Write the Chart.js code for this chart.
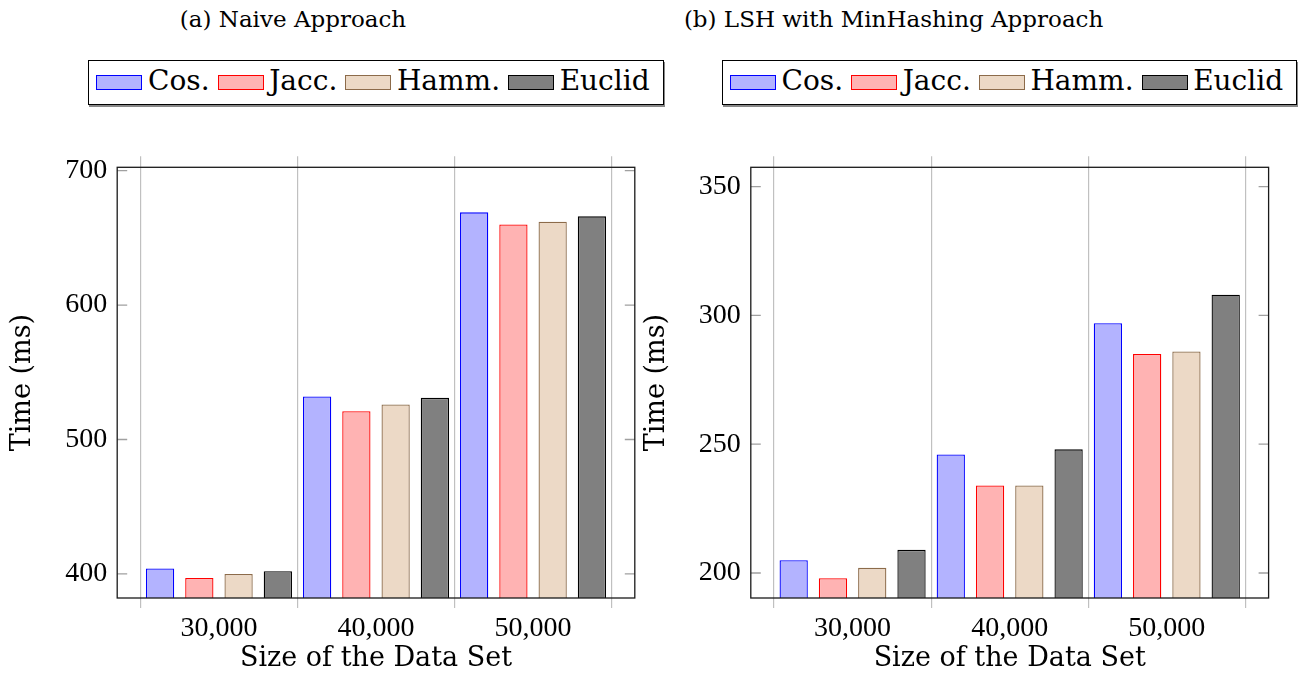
<!DOCTYPE html>
<html><head><meta charset="utf-8">
<script src="https://cdn.jsdelivr.net/npm/chart.js@4.4.0/dist/chart.umd.min.js"></script>
<style>
html,body{margin:0;padding:0;background:#fff;}
body{width:1305px;height:677px;position:relative;overflow:hidden;}
canvas{position:absolute;top:0;}
.title{position:absolute;top:8.2px;font-family:'DejaVu Serif';font-size:23px;line-height:23px;text-align:center;color:#000;white-space:nowrap;}
.legend{position:absolute;top:60px;height:45px;box-sizing:border-box;border:1.3px solid #000;box-shadow:1px 2px 0 #888;display:flex;align-items:center;padding-left:7.1px;font-family:'DejaVu Serif';font-size:28px;line-height:28px;color:#000;white-space:nowrap;}
.legend .sw{width:46px;height:15px;box-sizing:border-box;border:1.3px solid;margin-right:5.6px;flex:none;}
.legend .lbl{position:relative;top:-2px;margin-right:8px;}
</style></head>
<body>
<div class="title" style="left:0;width:586px;">(a) Naive Approach</div>
<div class="title" style="left:573.6px;width:640px;">(b) LSH with MinHashing Approach</div>
<div class="legend" id="leg1" style="left:88.3px;width:575.7px;"></div>
<div class="legend" id="leg2" style="left:721.8px;width:575.2px;"></div>
<canvas id="c1" width="650" height="677" style="left:0;width:650px;height:677px;"></canvas>
<canvas id="c2" width="675" height="677" style="left:630px;width:675px;height:677px;"></canvas>
<script>
// ---- data ----
const categories = ['30,000', '40,000', '50,000'];
const seriesNames = ['Cos.', 'Jacc.', 'Hamm.', 'Euclid'];

const naiveCos    = [404, 532, 669];
const naiveJacc   = [397, 521, 660];
const naiveHamm   = [400, 526, 662];
const naiveEuclid = [402, 531, 666];

const lshCos    = [205, 246, 297];
const lshJacc   = [198, 234, 285];
const lshHamm   = [202, 234, 286];
const lshEuclid = [209, 248, 308];

const naiveYTicks = [400, 500, 600, 700];
const lshYTicks   = [200, 250, 300, 350];
const naiveYRange = [382.1, 702.5];
const lshYRange   = [190.3, 357.5];

const xTitle = 'Size of the Data Set';
const yTitle = 'Time (ms)';

// ---- styles ----
const fills   = ['#b3b3ff', '#ffb3b3', '#ecd9c6', '#808080'];
const strokes = ['#0000ff', '#ff0000', '#8c6b4a', '#000000'];
const gridColor = '#c0c0c0';
const frameColor = '#1a1a1a';

function buildLegend(id) {
  const el = document.getElementById(id);
  seriesNames.forEach((name, k) => {
    const sw = document.createElement('span');
    sw.className = 'sw';
    sw.style.background = fills[k];
    sw.style.borderColor = strokes[k];
    const lb = document.createElement('span');
    lb.className = 'lbl';
    lb.textContent = name;
    el.appendChild(sw); el.appendChild(lb);
  });
}
buildLegend('leg1');
buildLegend('leg2');

const frameAndTicks = {
  id: 'frameAndTicks',
  afterDraw(chart) {
    const {ctx, chartArea: a} = chart;
    const y = chart.scales.y;
    ctx.save();
    ctx.strokeStyle = '#a0a0a0';
    ctx.lineWidth = 1.3;
    y.ticks.forEach(t => {
      const py = y.getPixelForValue(t.value);
      ctx.beginPath();
      ctx.moveTo(a.left, py); ctx.lineTo(a.left + 10, py);
      ctx.moveTo(a.right - 10, py); ctx.lineTo(a.right, py);
      ctx.stroke();
    });
    ctx.strokeStyle = frameColor;
    ctx.lineWidth = 1.3;
    ctx.strokeRect(a.left, a.top, a.right - a.left, a.bottom - a.top);
    ctx.restore();
  }
};

function makeChart(id, series, yTicks, yRange, geom) {
  const margin = 0.148;
  const xMin = -0.5 - margin;
  const xMax = categories.length - 0.5 + margin;
  const boundaries = categories.map((c, i) => i - 0.5).concat([categories.length - 0.5]);
  const datasets = series.map((vals, k) => ({
    label: seriesNames[k],
    data: vals.map((v, i) => ({x: i, y: v})),
    backgroundColor: fills[k],
    borderColor: strokes[k],
    borderWidth: 1.3,
    categoryPercentage: 1.0,
    barPercentage: 0.72,
    xAxisID: 'x',
    yAxisID: 'y'
  }));
  return new Chart(document.getElementById(id), {
    type: 'bar',
    data: {datasets},
    options: {
      responsive: false,
      animation: false,
      devicePixelRatio: 1,
      layout: {padding: {left: 0, top: 156.3, right: geom.padRight, bottom: 0}},
      plugins: {legend: {display: false}, tooltip: {enabled: false}},
      scales: {
        x: {
          type: 'linear', axis: 'x', position: 'bottom', min: xMin, max: xMax, weight: 0, offset: false,
          afterBuildTicks: s => { s.ticks = boundaries.map(v => ({value: v})); },
          ticks: {display: false},
          grid: {display: true, offset: false, drawOnChartArea: true, drawTicks: true, tickLength: 10,
                 color: gridColor, tickColor: gridColor, lineWidth: 1.2},
          border: {display: false},
          afterFit: s => { s.height = 10; }
        },
        xl: {
          type: 'linear', axis: 'x', position: 'bottom', min: xMin, max: xMax, weight: 1, offset: false,
          afterBuildTicks: s => { s.ticks = categories.map((c, i) => ({value: i})); },
          ticks: {display: true, autoSkip: false, maxRotation: 0, minRotation: 0, padding: 4,
                  color: '#000', font: {family: 'Liberation Serif', size: 28},
                  callback: v => categories[Math.round(v)] ?? ''},
          grid: {display: false, offset: false, drawTicks: false},
          border: {display: false},
          title: {display: true, text: xTitle, color: '#000',
                  font: {family: 'DejaVu Serif', size: 27}, padding: {top: 0, bottom: 2}},
          afterFit: s => { s.height = 69; }
        },
        x2: {
          type: 'linear', axis: 'x', position: 'top', min: xMin, max: xMax, offset: false,
          afterBuildTicks: s => { s.ticks = boundaries.map(v => ({value: v})); },
          ticks: {display: false},
          grid: {display: true, offset: false, drawOnChartArea: false, drawTicks: true, tickLength: 11,
                 color: gridColor, tickColor: gridColor, lineWidth: 1.2},
          border: {display: false},
          afterFit: s => { s.height = 11; }
        },
        y: {
          type: 'linear', position: 'left', min: yRange[0], max: yRange[1],
          afterBuildTicks: s => { s.ticks = yTicks.map(v => ({value: v})); },
          ticks: {padding: 10, color: '#000', font: {family: 'Liberation Serif', size: 28},
                  callback: v => String(v)},
          grid: {drawOnChartArea: false, drawTicks: false},
          border: {display: false},
          title: {display: true, text: yTitle, color: '#000',
                  font: {family: 'DejaVu Serif', size: 27}, padding: {top: geom.yTitlePad, bottom: 0}},
          afterFit: s => { s.width = geom.yWidth; }
        }
      }
    },
    plugins: [frameAndTicks]
  });
}

makeChart('c1', [naiveCos, naiveJacc, naiveHamm, naiveEuclid], naiveYTicks, naiveYRange,
  {padRight: 15.2, yWidth: 117.2, yTitlePad: 6.8});
makeChart('c2', [lshCos, lshJacc, lshHamm, lshEuclid], lshYTicks, lshYRange,
  {padRight: 36.4, yWidth: 120.8, yTitlePad: 10.8});
</script>
</body></html>
